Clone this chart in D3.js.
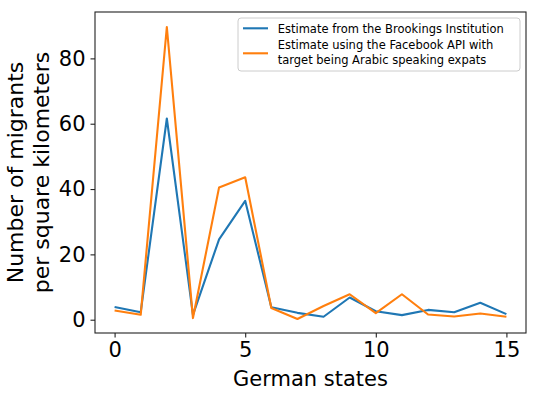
<!DOCTYPE html>
<html>
<head>
<meta charset="utf-8">
<script src="https://cdn.jsdelivr.net/npm/d3@7"></script>
<style>
  body { margin: 0; background: #fff; }
  text { font-family: "DejaVu Sans", sans-serif; }
</style>
</head>
<body>
<svg id="chart" width="539" height="398"></svg>
<script>
var states = d3.range(16);
var brookings = [3.9, 2.3, 61.6, 1.5, 24.6, 36.4, 3.8, 2.1, 0.9, 6.8, 2.6, 1.4, 3.0, 2.3, 5.2, 1.7];
var facebook = [2.8, 1.5, 89.6, 0.5, 40.5, 43.6, 3.6, 0.2, 4.2, 7.8, 2.0, 7.8, 1.6, 1.0, 1.9, 0.9];
var xTicks = [0, 5, 10, 15];
var yTicks = [0, 20, 40, 60, 80];
var seriesNames = ["Estimate from the Brookings Institution",
  ["Estimate using the Facebook API with", "target being Arabic speaking expats"]];
var colors = ["#1f77b4", "#ff7f0e"];

var svg = d3.select("#chart"),
  margin = { top: 12, right: 13, bottom: 65, left: 95 },
  width = 539 - margin.left - margin.right,
  height = 398 - margin.top - margin.bottom,
  g = svg.append("g").attr("transform", "translate(" + margin.left + "," + margin.top + ")");

var x = d3.scaleLinear().domain([-0.75, 15.75]).range([0, width]);
var y = d3.scaleLinear().domain([-4.07, 94.2]).range([height, 0]);

var line = d3.line()
  .x(function(d, i) { return x(states[i]); })
  .y(function(d) { return y(d); });

[brookings, facebook].forEach(function(s, i) {
  g.append("path")
    .datum(s)
    .attr("fill", "none")
    .attr("stroke", colors[i])
    .attr("stroke-width", 2.1)
    .attr("stroke-linejoin", "round")
    .attr("d", line);
});

var xAxis = g.append("g")
  .attr("transform", "translate(0," + height + ")")
  .call(d3.axisBottom(x).tickValues(xTicks).tickSize(4.5).tickPadding(5));
var yAxis = g.append("g")
  .call(d3.axisLeft(y).tickValues(yTicks).tickSize(4.5).tickPadding(5));
[xAxis, yAxis].forEach(function(a) {
  a.select(".domain").remove();
  a.selectAll("line").attr("stroke", "#222").attr("stroke-width", 1.1);
  a.selectAll("text").attr("fill", "#000").style("font-size", "21px")
    .style("font-family", "DejaVu Sans, sans-serif");
});

g.append("rect")
  .attr("width", width).attr("height", height)
  .attr("fill", "none").attr("stroke", "#222").attr("stroke-width", 1.1);

svg.append("text")
  .attr("x", margin.left + width / 2).attr("y", 386)
  .attr("text-anchor", "middle")
  .style("font-size", "21px")
  .text("German states");

var yl = svg.append("text")
  .attr("transform", "translate(0," + (margin.top + height / 2) + ") rotate(-90)")
  .attr("text-anchor", "middle")
  .style("font-size", "22px");
yl.append("tspan").attr("x", 0).attr("y", 22.5).text("Number of migrants");
yl.append("tspan").attr("x", 0).attr("y", 49).text("per square kilometers");

var leg = svg.append("g").attr("transform", "translate(238,18)");
leg.append("rect")
  .attr("width", 282).attr("height", 53).attr("rx", 3)
  .attr("fill", "#fff").attr("fill-opacity", 0.8)
  .attr("stroke", "#ccc").attr("stroke-width", 1);
var legY = [10.3, 35.3];
seriesNames.forEach(function(name, i) {
  leg.append("line")
    .attr("x1", 5).attr("x2", 30)
    .attr("y1", legY[i]).attr("y2", legY[i])
    .attr("stroke", colors[i]).attr("stroke-width", 2.1);
  var lines = Array.isArray(name) ? name : [name];
  var t = leg.append("text").style("font-size", "11.5px").attr("fill", "#000");
  lines.forEach(function(l, j) {
    t.append("tspan")
      .attr("x", 39.7)
      .attr("y", i === 0 ? 14.7 : 31.3 + j * 14.7)
      .text(l);
  });
});
</script>
</body>
</html>
